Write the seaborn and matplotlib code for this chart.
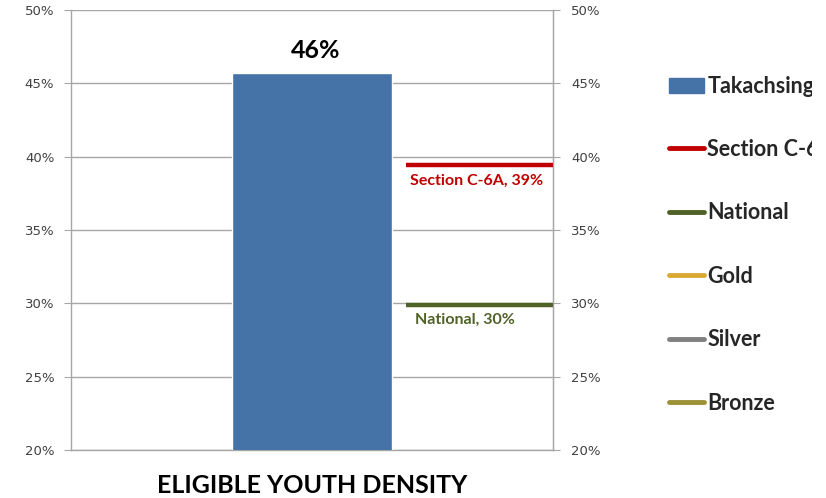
import pandas as pd
import seaborn as sns
import matplotlib.pyplot as plt
from matplotlib.patches import Patch
from matplotlib.lines import Line2D
from matplotlib.transforms import Bbox, TransformedBbox
from matplotlib.ticker import FuncFormatter, MultipleLocator

# data
categories = ["ELIGIBLE YOUTH DENSITY"]
takachsing = [45.7]
bar_name = "Takachsing"
line_names = ["Section C-6A", "National", "Gold", "Silver", "Bronze"]
line_values = [39.4, 29.9, None, None, None]
line_colors = ["#C00000", "#4F6228", "#D9A933", "#808080", "#9C9135"]

bar_color = "#4572A7"
grid_color = "#A6A6A6"
tick_color = "#404040"

sns.set_style("white")
plt.rcParams['font.family'] = ['DejaVu Sans']

fig = plt.figure(figsize=(8.26, 4.98), dpi=100)
ax = fig.add_axes([71 / 826, 48 / 498, (553 - 71) / 826, (450 - 10) / 498])

df = pd.DataFrame({"cat": categories, "val": takachsing})
sns.barplot(data=df, x="cat", y="val", color=bar_color, width=1.0,
            saturation=1, ax=ax, zorder=3)
ax.set_xlim(-1.5, 1.5)
ax.set_ylim(20, 50)

# bar value label
for p, v in zip(ax.patches, takachsing):
    ax.annotate(f"{v:.0f}%", (p.get_x() + p.get_width() / 2, p.get_height()),
                xytext=(3, 8), textcoords="offset points", ha="center",
                va="bottom", fontsize=18, fontweight="bold", family="Lato",
                color="black")

# reference lines on the right of the bar
line_x0 = 0.585
label_shift = [0.0, -0.07]
handles = [Patch(facecolor=bar_color, edgecolor=bar_color)]
labels = [bar_name]
for i, (name, val, col) in enumerate(zip(line_names, line_values, line_colors)):
    handles.append(Line2D([], [], color=col, lw=3.5, solid_capstyle="round"))
    labels.append(name)
    if val is None:
        continue
    ax.hlines(val, line_x0, 1.5, color=col, lw=3.2, zorder=4,
              clip_on=False)
    ax.annotate(f"{name}, {val:.0f}%",
                ((line_x0 + 1.5) / 2 - 0.02 + label_shift[i], val),
                xytext=(0, -6), textcoords="offset points", ha="center",
                va="top", fontsize=11.5, fontweight="bold", family="Lato",
                color=col)

# axes styling
pct = FuncFormatter(lambda y, _: f"{y:.0f}%")
ax.yaxis.set_major_locator(MultipleLocator(5))
ax.yaxis.set_major_formatter(pct)
ax.grid(axis="y", color=grid_color, lw=1, zorder=0)
ax.grid(axis="x", visible=False)
for s in ax.spines.values():
    s.set_color(grid_color)
    s.set_linewidth(1)
ax.spines["top"].set_visible(False)
ax.tick_params(axis="y", direction="out", length=5, color=grid_color,
               labelsize=9.5, labelcolor=tick_color, pad=7, left=True)
ax.set_xlabel("")
ax.set_ylabel("")
ax.set_xticks([0])
ax.set_xticklabels(categories, fontsize=18, fontweight="bold", family="Lato",
                   color="black")
ax.tick_params(axis="x", length=0, pad=17)
ax.set_xticks([-1.5, 1.5], minor=True)
ax.tick_params(axis="x", which="minor", length=8, color=grid_color,
               direction="out")

ax2 = ax.twinx()
ax2.set_ylim(ax.get_ylim())
ax2.yaxis.set_major_locator(MultipleLocator(5))
ax2.yaxis.set_major_formatter(pct)
for s in ax2.spines.values():
    s.set_visible(False)
ax2.spines["right"].set_visible(True)
ax2.spines["right"].set_color(grid_color)
ax2.tick_params(axis="y", direction="out", length=5, color=grid_color,
                labelsize=9.5, labelcolor=tick_color, pad=8, right=True)
ax2.grid(False)

leg = fig.legend(handles, labels, loc="upper left",
                 bbox_to_anchor=(660 / 826, 1 - 67 / 498), frameon=False,
                 prop={"family": "Lato", "weight": "bold", "size": 15.5},
                 handlelength=1.65, handletextpad=0.15, labelspacing=1.97,
                 borderaxespad=0)

# the original chart area ends a little before the image edge
clip = TransformedBbox(Bbox.from_extents(0, 0, 812 / 826, 1), fig.transFigure)
for t in leg.get_texts():
    t.set_clip_box(clip)
    t.set_clip_on(True)

fig.savefig("out.png", dpi=100)
